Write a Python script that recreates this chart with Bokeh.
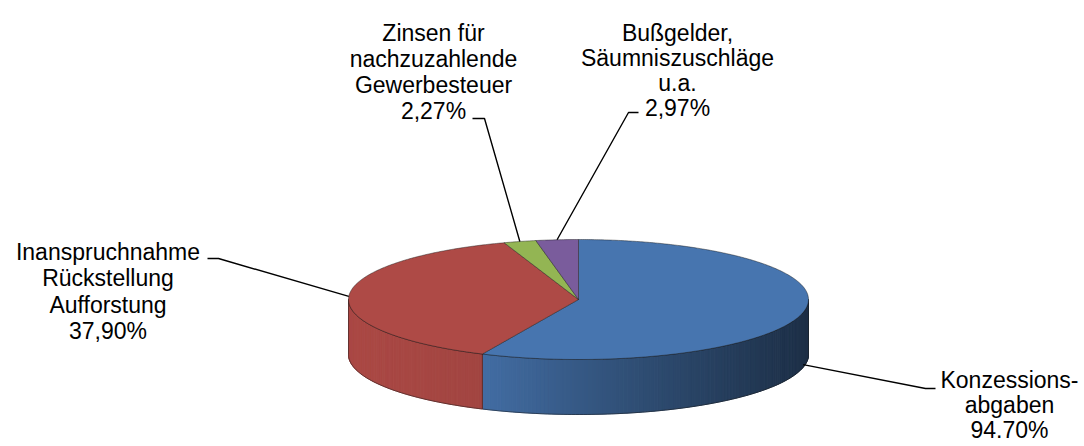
import math
import numpy as np
from bokeh.plotting import figure
from bokeh.models import Range1d
from bokeh.core.properties import value
from bokeh.embed import file_html
from bokeh.resources import INLINE

# ---------------- data ----------------
categories = ["Konzessionsabgaben",
              "Inanspruchnahme Rückstellung Aufforstung",
              "Zinsen für nachzuzahlende Gewerbesteuer",
              "Bußgelder, Säumniszuschläge u.a."]
# slice sizes as drawn in the picture (share of the full circle, %)
shares = [56.86, 37.90, 2.27, 2.97]
# percentage texts printed on the labels
pct_labels = ["94.70%", "37,90%", "2,27%", "2,97%"]
label_lines = [["Konzessions-", "abgaben"],
               ["Inanspruchnahme", "Rückstellung", "Aufforstung"],
               ["Zinsen für", "nachzuzahlende", "Gewerbesteuer"],
               ["Bußgelder,", "Säumniszuschläge", "u.a."]]
colors = ["#4775AF", "#AE4A46", "#93B553", "#7A5C9C"]

# ---------------- layout (pixel coords of page) ----------------
CX, CY, RX, RY, DEPTH = 578.0, 299.0, 230.0, 60.0, 55.0
FONT = "Liberation Sans"
FSIZE = "23px"
TEXT_DY = -7.0
label_pos = [
    dict(cx=1009, y0=386, step=25.0, end=(935, 388), elbow=(925, 388)),
    dict(cx=107.5, y0=258, step=26.5, end=(207, 258), elbow=(218, 258)),
    dict(cx=433, y0=39, step=26.3, end=(472, 118), elbow=(484, 118)),
    dict(cx=677, y0=39, step=25.0, end=(638, 112), elbow=(628, 112)),
]

W, H = 1084, 446
p = figure(width=W, height=H, x_range=Range1d(0, W), y_range=Range1d(H, 0),
           toolbar_location=None, output_backend="svg", min_border=0,
           x_axis_type=None, y_axis_type=None)
p.grid.visible = False
p.outline_line_color = None
p.background_fill_color = "white"
p.border_fill_color = "white"


def pt(theta, dy=0.0):
    t = math.radians(theta)
    return CX + RX * math.sin(t), CY - RY * math.cos(t) + dy


def hex2rgb(h):
    h = h.lstrip("#")
    return tuple(int(h[i:i + 2], 16) for i in (0, 2, 4))


def shade(h, f):
    r, g, b = hex2rgb(h)
    return "#%02x%02x%02x" % tuple(max(0, min(255, int(round(c * f)))) for c in (r, g, b))


def side_factor(x):
    return float(np.interp(x, [348, 482, 600, 808], [0.98, 0.93, 0.72, 0.40]))


total = sum(shares)
angles = [s / total * 360.0 for s in shares]
starts = np.concatenate([[0.0], np.cumsum(angles)[:-1]])
ends = starts + np.array(angles)

# ---------------- side walls (front half, 90..270 deg) ----------------
for i in range(len(shares)):
    a, b = max(starts[i], 90.0), min(ends[i], 270.0)
    if b <= a:
        continue
    n = max(2, int(math.ceil(b - a)))
    th = np.linspace(a, b, n + 1)
    xs_list, ys_list, cols = [], [], []
    for k in range(n):
        x1, y1 = pt(th[k])
        x2, y2 = pt(th[k + 1])
        xs_list.append([x1, x2, x2, x1])
        ys_list.append([y1, y2, y2 + DEPTH, y1 + DEPTH])
        cols.append(shade(colors[i], side_factor((x1 + x2) / 2)))
    p.patches(xs_list, ys_list, fill_color=cols, line_color=cols, line_width=1)
    top = [pt(t) for t in th]
    bot = [pt(t, DEPTH) for t in th[::-1]]
    ox = [q[0] for q in top] + [q[0] for q in bot]
    oy = [q[1] for q in top] + [q[1] for q in bot]
    p.patch(ox, oy, fill_alpha=0, line_color="#1a1a1a", line_alpha=0.55, line_width=0.9)

# ---------------- top faces ----------------
for i in range(len(shares)):
    th = np.linspace(starts[i], ends[i], max(3, int(angles[i] * 2)))
    pts = [pt(t) for t in th]
    xs = [CX] + [q[0] for q in pts]
    ys = [CY] + [q[1] for q in pts]
    p.patch(xs, ys, fill_color=colors[i], line_color="#1a1a1a", line_alpha=0.5, line_width=0.9)

# ---------------- leader lines & labels ----------------
for i in range(len(shares)):
    mid = (starts[i] + ends[i]) / 2
    ax, ay = pt(mid)
    if 90 < mid % 360 < 270:
        ay += DEPTH * 0.95
    lp = label_pos[i]
    p.line([ax, lp["elbow"][0], lp["end"][0]], [ay, lp["elbow"][1], lp["end"][1]],
           line_color="black", line_width=1.4)
    lines = label_lines[i] + [pct_labels[i]]
    ys = [lp["y0"] + TEXT_DY + k * lp["step"] for k in range(len(lines))]
    p.text(x=[lp["cx"]] * len(lines), y=ys, text=lines, text_align="center",
           text_baseline="alphabetic", text_font=value(FONT), text_font_size=FSIZE,
           text_color="black")

open("out.html", "w").write(file_html(p, INLINE))
